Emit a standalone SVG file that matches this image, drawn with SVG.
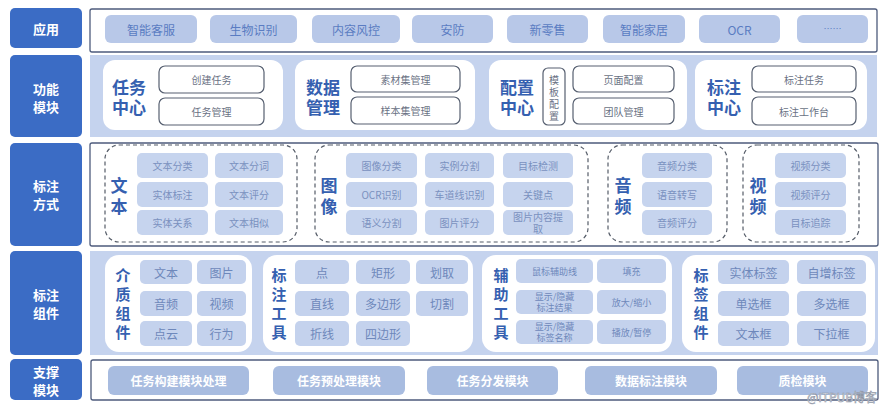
<svg xmlns="http://www.w3.org/2000/svg" width="889" height="410" viewBox="0 0 889 410">
<style>
text{font-family:"Noto Sans CJK SC","Noto Sans",sans-serif;text-anchor:middle;dominant-baseline:central}
.lab{fill:#3b6cc5}
.labt{fill:#fff;font-size:13px;font-weight:bold}
.frame{fill:#fff;stroke:#4d5b7c;stroke-width:1.3}
.band{fill:#c5d3ee}
.card{fill:#fff}
.b1{fill:#b8c8e8}
.b1t{fill:#5a7cc2;font-size:12px}
.ttl{fill:#3560b0;font-size:17px;font-weight:bold}
.vt{fill:#3560b0;font-size:15px;font-weight:bold}
.sub{fill:#fff;stroke:#565f70;stroke-width:1.2}
.subt{fill:#6a7284;font-size:10px}
.dash{fill:none;stroke:#555c68;stroke-width:1.2;stroke-dasharray:4 3}
.b3{fill:#c6d4ee}
.b3t{fill:#7a91bf;font-size:10px}
.b4{fill:#c4d2ed}
.b4t{fill:#6e88bb;font-size:12px}
.b4s{fill:#6e88bb;font-size:9px}
.b5{fill:#a8bce0}
.b5t{fill:#fff;font-size:12px;font-weight:bold}
</style>
<rect width="889" height="410" fill="#fff"/>

<!-- left labels -->
<g id="lab-app"><rect class="lab" x="10" y="8" width="72" height="40" rx="5"/><text class="labt" x="46" y="28">应用</text></g>
<g id="lab-func"><rect class="lab" x="10" y="55" width="72" height="82" rx="5"/><text class="labt" x="46" y="88">功能</text><text class="labt" x="46" y="106">模块</text></g>
<g id="lab-way"><rect class="lab" x="10" y="143" width="72" height="103" rx="5"/><text class="labt" x="46" y="185">标注</text><text class="labt" x="46" y="203">方式</text></g>
<g id="lab-comp"><rect class="lab" x="10" y="251" width="72" height="104" rx="5"/><text class="labt" x="46" y="294">标注</text><text class="labt" x="46" y="312">组件</text></g>
<g id="lab-sup"><rect class="lab" x="10" y="359" width="72" height="41" rx="5"/><text class="labt" x="46" y="371">支撑</text><text class="labt" x="46" y="389">模块</text></g>

<!-- row 1 -->
<g id="row-app">
<rect class="frame" x="90" y="9" width="787" height="43" rx="2"/>
<rect class="b1" x="105" y="15" width="92" height="28" rx="6"/><text class="b1t" x="151" y="29">智能客服</text>
<rect class="b1" x="210" y="15" width="87" height="28" rx="6"/><text class="b1t" x="253.5" y="29">生物识别</text>
<rect class="b1" x="312" y="15" width="88" height="28" rx="6"/><text class="b1t" x="356" y="29">内容风控</text>
<rect class="b1" x="412" y="15" width="81" height="28" rx="6"/><text class="b1t" x="452.5" y="29">安防</text>
<rect class="b1" x="507" y="15" width="81" height="28" rx="6"/><text class="b1t" x="547.5" y="29">新零售</text>
<rect class="b1" x="603" y="15" width="82" height="28" rx="6"/><text class="b1t" x="644" y="29">智能家居</text>
<rect class="b1" x="699" y="15" width="81" height="28" rx="6"/><text class="b1t" x="739.5" y="29">OCR</text>
<rect class="b1" x="797" y="15" width="71" height="28" rx="6"/><text class="b1t" x="832.5" y="28" style="font-size:9px">……</text>
</g>

<!-- row 2 -->
<rect class="band" x="90" y="55" width="787" height="82"/>
<g id="task-center">
<rect class="card" x="103" y="60" width="180" height="70" rx="12"/>
<text class="ttl" x="129" y="86">任务</text><text class="ttl" x="129" y="106">中心</text>
<rect class="sub" x="159" y="66" width="105" height="27" rx="6"/><text class="subt" x="211.5" y="79.5">创建任务</text>
<rect class="sub" x="159" y="98" width="105" height="27" rx="6"/><text class="subt" x="211.5" y="111.5">任务管理</text>
</g>
<g id="data-mgmt">
<rect class="card" x="295" y="60" width="180" height="70" rx="12"/>
<text class="ttl" x="323" y="86">数据</text><text class="ttl" x="323" y="106">管理</text>
<rect class="sub" x="351" y="66" width="109" height="26" rx="6"/><text class="subt" x="405.5" y="79">素材集管理</text>
<rect class="sub" x="351" y="97" width="109" height="27" rx="6"/><text class="subt" x="405.5" y="110.5">样本集管理</text>
</g>
<g id="config-center">
<rect class="card" x="489" y="60" width="198" height="70" rx="12"/>
<text class="ttl" x="517" y="86">配置</text><text class="ttl" x="517" y="106">中心</text>
<rect class="sub" x="543" y="68" width="22" height="57" rx="5"/>
<text class="subt" x="554" y="79">模</text><text class="subt" x="554" y="91">板</text><text class="subt" x="554" y="103">配</text><text class="subt" x="554" y="115">置</text>
<rect class="sub" x="573" y="66" width="101" height="26" rx="6"/><text class="subt" x="623.5" y="79">页面配置</text>
<rect class="sub" x="573" y="98" width="101" height="26" rx="6"/><text class="subt" x="623.5" y="111">团队管理</text>
</g>
<g id="label-center">
<rect class="card" x="695" y="60" width="172" height="70" rx="12"/>
<text class="ttl" x="724" y="86">标注</text><text class="ttl" x="724" y="106">中心</text>
<rect class="sub" x="752" y="66" width="104" height="26" rx="6"/><text class="subt" x="804" y="79">标注任务</text>
<rect class="sub" x="752" y="97" width="104" height="28" rx="6"/><text class="subt" x="804" y="111">标注工作台</text>
</g>

<!-- row 3 -->
<rect class="frame" x="90" y="143" width="788" height="103" rx="2"/>
<g id="way-text">
<rect class="dash" x="105" y="145" width="192" height="97" rx="14"/>
<text class="ttl" x="119" y="184">文</text><text class="ttl" x="119" y="205">本</text>
<rect class="b3" x="137" y="153" width="71" height="25" rx="5"/><text class="b3t" x="172.5" y="165.5">文本分类</text>
<rect class="b3" x="215" y="153" width="68" height="25" rx="5"/><text class="b3t" x="249" y="165.5">文本分词</text>
<rect class="b3" x="137" y="182" width="71" height="25" rx="5"/><text class="b3t" x="172.5" y="194.5">实体标注</text>
<rect class="b3" x="215" y="182" width="68" height="25" rx="5"/><text class="b3t" x="249" y="194.5">文本评分</text>
<rect class="b3" x="137" y="210" width="71" height="25" rx="5"/><text class="b3t" x="172.5" y="222.5">实体关系</text>
<rect class="b3" x="215" y="210" width="68" height="25" rx="5"/><text class="b3t" x="249" y="222.5">文本相似</text>
</g>
<g id="way-image">
<rect class="dash" x="315" y="145" width="273" height="97" rx="14"/>
<text class="ttl" x="329" y="184">图</text><text class="ttl" x="329" y="205">像</text>
<rect class="b3" x="346" y="153" width="71" height="25" rx="5"/><text class="b3t" x="381.5" y="165.5">图像分类</text>
<rect class="b3" x="425" y="153" width="69" height="25" rx="5"/><text class="b3t" x="459.5" y="165.5">实例分割</text>
<rect class="b3" x="503" y="153" width="70" height="25" rx="5"/><text class="b3t" x="538" y="165.5">目标检测</text>
<rect class="b3" x="346" y="182" width="71" height="25" rx="5"/><text class="b3t" x="381.5" y="194.5">OCR识别</text>
<rect class="b3" x="425" y="182" width="69" height="25" rx="5"/><text class="b3t" x="459.5" y="194.5">车道线识别</text>
<rect class="b3" x="503" y="182" width="70" height="25" rx="5"/><text class="b3t" x="538" y="194.5">关键点</text>
<rect class="b3" x="346" y="210" width="71" height="25" rx="5"/><text class="b3t" x="381.5" y="222.5">语义分割</text>
<rect class="b3" x="425" y="210" width="69" height="25" rx="5"/><text class="b3t" x="459.5" y="222.5">图片评分</text>
<rect class="b3" x="503" y="210" width="70" height="25" rx="5"/><text class="b3t" x="538" y="216.5">图片内容提</text><text class="b3t" x="538" y="228.5">取</text>
</g>
<g id="way-audio">
<rect class="dash" x="608" y="145" width="119" height="97" rx="14"/>
<text class="ttl" x="623" y="184">音</text><text class="ttl" x="623" y="205">频</text>
<rect class="b3" x="642" y="153" width="70" height="25" rx="5"/><text class="b3t" x="677" y="165.5">音频分类</text>
<rect class="b3" x="642" y="182" width="70" height="25" rx="5"/><text class="b3t" x="677" y="194.5">语音转写</text>
<rect class="b3" x="642" y="210" width="70" height="25" rx="5"/><text class="b3t" x="677" y="222.5">音频评分</text>
</g>
<g id="way-video">
<rect class="dash" x="743" y="145" width="116" height="97" rx="14"/>
<text class="ttl" x="758" y="184">视</text><text class="ttl" x="758" y="205">频</text>
<rect class="b3" x="775" y="153" width="71" height="25" rx="5"/><text class="b3t" x="810.5" y="165.5">视频分类</text>
<rect class="b3" x="775" y="182" width="71" height="25" rx="5"/><text class="b3t" x="810.5" y="194.5">视频评分</text>
<rect class="b3" x="775" y="210" width="71" height="25" rx="5"/><text class="b3t" x="810.5" y="222.5">目标追踪</text>
</g>

<!-- row 4 -->
<rect class="band" x="90" y="251" width="788" height="104"/>
<g id="comp-media">
<rect class="card" x="105" y="255" width="147" height="97" rx="14"/>
<text class="vt" x="123" y="274">介</text><text class="vt" x="123" y="293">质</text><text class="vt" x="123" y="312">组</text><text class="vt" x="123" y="331">件</text>
<rect class="b4" x="140" y="260" width="52" height="24" rx="5"/><text class="b4t" x="166" y="272">文本</text>
<rect class="b4" x="197" y="260" width="49" height="24" rx="5"/><text class="b4t" x="221.5" y="272">图片</text>
<rect class="b4" x="140" y="291" width="52" height="25" rx="5"/><text class="b4t" x="166" y="303.5">音频</text>
<rect class="b4" x="197" y="291" width="49" height="25" rx="5"/><text class="b4t" x="221.5" y="303.5">视频</text>
<rect class="b4" x="140" y="321" width="52" height="25" rx="5"/><text class="b4t" x="166" y="333.5">点云</text>
<rect class="b4" x="197" y="321" width="49" height="25" rx="5"/><text class="b4t" x="221.5" y="333.5">行为</text>
</g>
<g id="comp-tools">
<rect class="card" x="263" y="255" width="210" height="97" rx="14"/>
<text class="vt" x="279" y="274">标</text><text class="vt" x="279" y="293">注</text><text class="vt" x="279" y="312">工</text><text class="vt" x="279" y="331">具</text>
<rect class="b4" x="295" y="260" width="54" height="24" rx="5"/><text class="b4t" x="322" y="272">点</text>
<rect class="b4" x="356" y="260" width="54" height="24" rx="5"/><text class="b4t" x="383" y="272">矩形</text>
<rect class="b4" x="416" y="260" width="52" height="24" rx="5"/><text class="b4t" x="442" y="272">划取</text>
<rect class="b4" x="295" y="291" width="54" height="25" rx="5"/><text class="b4t" x="322" y="303.5">直线</text>
<rect class="b4" x="356" y="291" width="54" height="25" rx="5"/><text class="b4t" x="383" y="303.5">多边形</text>
<rect class="b4" x="416" y="291" width="52" height="25" rx="5"/><text class="b4t" x="442" y="303.5">切割</text>
<rect class="b4" x="295" y="321" width="54" height="25" rx="5"/><text class="b4t" x="322" y="333.5">折线</text>
<rect class="b4" x="356" y="321" width="54" height="25" rx="5"/><text class="b4t" x="383" y="333.5">四边形</text>
</g>
<g id="comp-aux">
<rect class="card" x="482" y="255" width="190" height="97" rx="14"/>
<text class="vt" x="501" y="274">辅</text><text class="vt" x="501" y="293">助</text><text class="vt" x="501" y="312">工</text><text class="vt" x="501" y="331">具</text>
<rect class="b4" x="516" y="259" width="77" height="24" rx="5"/><text class="b4s" x="554.5" y="271">鼠标辅助线</text>
<rect class="b4" x="597" y="259" width="69" height="24" rx="5"/><text class="b4s" x="631.5" y="271">填充</text>
<rect class="b4" x="516" y="290" width="77" height="24" rx="5"/><text class="b4s" x="554.5" y="296.5">显示/隐藏</text><text class="b4s" x="554.5" y="307.5">标注结果</text>
<rect class="b4" x="597" y="290" width="69" height="24" rx="5"/><text class="b4s" x="631.5" y="302">放大/缩小</text>
<rect class="b4" x="516" y="320" width="77" height="24" rx="5"/><text class="b4s" x="554.5" y="326.5">显示/隐藏</text><text class="b4s" x="554.5" y="337.5">标签名称</text>
<rect class="b4" x="597" y="320" width="69" height="24" rx="5"/><text class="b4s" x="631.5" y="332">播放/暂停</text>
</g>
<g id="comp-tag">
<rect class="card" x="682" y="255" width="193" height="97" rx="14"/>
<text class="vt" x="701" y="274">标</text><text class="vt" x="701" y="293">签</text><text class="vt" x="701" y="312">组</text><text class="vt" x="701" y="331">件</text>
<rect class="b4" x="718" y="260" width="71" height="24" rx="5"/><text class="b4t" x="753.5" y="272">实体标签</text>
<rect class="b4" x="797" y="260" width="69" height="24" rx="5"/><text class="b4t" x="831.5" y="272">自增标签</text>
<rect class="b4" x="718" y="291" width="71" height="25" rx="5"/><text class="b4t" x="753.5" y="303.5">单选框</text>
<rect class="b4" x="797" y="291" width="69" height="25" rx="5"/><text class="b4t" x="831.5" y="303.5">多选框</text>
<rect class="b4" x="718" y="321" width="71" height="25" rx="5"/><text class="b4t" x="753.5" y="333.5">文本框</text>
<rect class="b4" x="797" y="321" width="69" height="25" rx="5"/><text class="b4t" x="831.5" y="333.5">下拉框</text>
</g>

<!-- row 5 -->
<g id="row-support">
<rect class="frame" x="91" y="360" width="787" height="40" rx="2"/>
<rect class="b5" x="108" y="366" width="141" height="29" rx="6"/><text class="b5t" x="178.5" y="380.5">任务构建模块处理</text>
<rect class="b5" x="273" y="366" width="132" height="29" rx="6"/><text class="b5t" x="339" y="380.5">任务预处理模块</text>
<rect class="b5" x="427" y="366" width="131" height="29" rx="6"/><text class="b5t" x="492.5" y="380.5">任务分发模块</text>
<rect class="b5" x="585" y="366" width="132" height="29" rx="6"/><text class="b5t" x="651" y="380.5">数据标注模块</text>
<rect class="b5" x="737" y="366" width="131" height="29" rx="6"/><text class="b5t" x="802.5" y="380.5">质检模块</text>
</g>
<text x="842" y="396" style="font-size:12px;fill:#fff;stroke:#8e96a6;stroke-width:0.6">@ITPUB博客</text>
</svg>
